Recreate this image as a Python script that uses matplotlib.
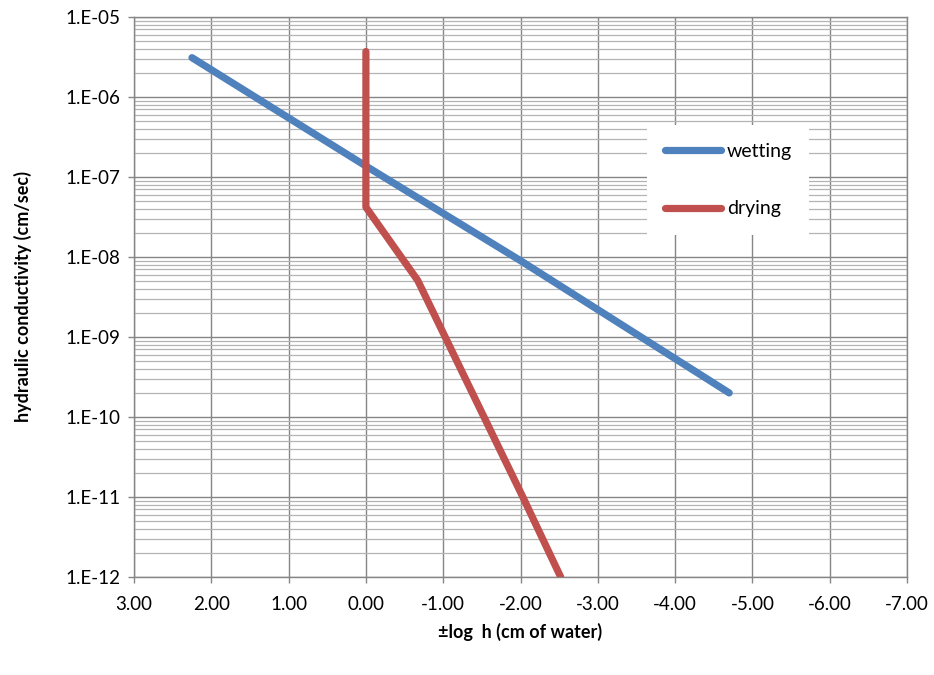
import math
import matplotlib.pyplot as plt
from matplotlib.ticker import FixedLocator, LogLocator, NullFormatter, FuncFormatter

plt.rcParams['font.family'] = ['Lato', 'DejaVu Sans']

# wetting curve (±log h, K in cm/sec)
wet_x = [2.25, 0.00, -2.00, -4.70]
wet_k = [3.1e-6, 1.37e-7, 9.0e-9, 2.0e-10]

# drying curve
dry_x = [0.00, 0.00, -0.67, -2.03, -2.52]
dry_k = [3.7e-6, 4.2e-8, 5.1e-9, 1.0e-11, 1.0e-12]

x_ticks = [3, 2, 1, 0, -1, -2, -3, -4, -5, -6, -7]
y_ticks = [1e-12, 1e-11, 1e-10, 1e-9, 1e-8, 1e-7, 1e-6, 1e-5]

blue = '#4F81BD'
red = '#C0504D'
grid_major = '#868686'
grid_minor = '#B4B4B4'

fig = plt.figure(figsize=(9.34, 6.75), dpi=100)
ax = fig.add_axes([134/934, 1 - 577/675, (907-134)/934, (577-17)/675])

ax.set_yscale('log')
ax.set_xlim(3, -7)
ax.set_ylim(1e-12, 1e-5)

ax.plot(wet_x, wet_k, color=blue, lw=5.2, solid_capstyle='round', label='wetting', zorder=3)
ax.plot(dry_x, dry_k, color=red, lw=5.2, solid_capstyle='round', solid_joinstyle='round',
        label='drying', zorder=3)

ax.xaxis.set_major_locator(FixedLocator(x_ticks))
ax.xaxis.set_major_formatter(FuncFormatter(lambda v, p: '%.2f' % v if abs(v) > 1e-9 else '0.00'))
ax.yaxis.set_major_locator(FixedLocator(y_ticks))
ax.yaxis.set_major_formatter(FuncFormatter(lambda v, p: '1.E-%02d' % round(-math.log10(v))))
ax.yaxis.set_minor_locator(LogLocator(base=10, subs=range(2, 10), numticks=50))
ax.yaxis.set_minor_formatter(NullFormatter())

ax.grid(True, which='major', axis='both', color=grid_major, lw=1.0)
ax.grid(True, which='minor', axis='y', color=grid_minor, lw=0.9)
ax.set_axisbelow(True)

ax.tick_params(axis='both', which='major', direction='out', length=4.5, width=1,
               color=grid_major, labelsize=13.5, pad=5)
ax.tick_params(axis='x', pad=9)
ax.tick_params(axis='y', which='minor', length=0)

for s in ax.spines.values():
    s.set_color(grid_major)
    s.set_linewidth(1.0)

ax.set_xlabel('±log  h (cm of water)', fontsize=13, fontweight='bold', labelpad=7)
ax.set_ylabel('hydraulic conductivity (cm/sec)', fontsize=13, fontweight='bold', labelpad=24)

leg = ax.legend(loc='upper left', bbox_to_anchor=(647/934, 1 - 125/675),
                bbox_transform=fig.transFigure, frameon=True, fancybox=False,
                fontsize=14, handlelength=2.9, handletextpad=0.3, labelspacing=2.1,
                borderpad=0.9, borderaxespad=0)
leg.get_frame().set_facecolor('white')
leg.get_frame().set_edgecolor('none')
leg.get_frame().set_alpha(1)

fig.savefig('out.png', dpi=100)
